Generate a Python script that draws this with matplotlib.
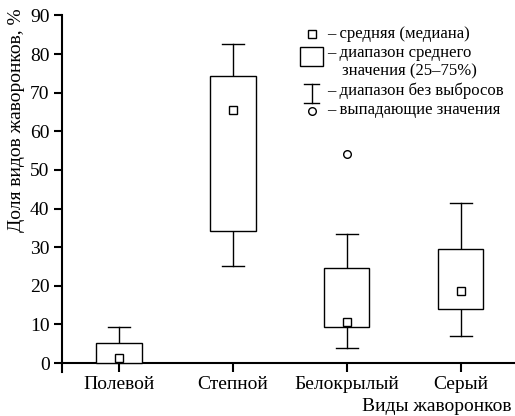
import matplotlib
matplotlib.use('Agg')
import matplotlib.pyplot as plt
from matplotlib.patches import Rectangle

plt.rcParams['font.family'] = ['Liberation Serif', 'DejaVu Serif']

# Данные: виды жаворонков и статистики распределения
species = ['Полевой', 'Степной', 'Белокрылый', 'Серый']
medians = [1.3, 65.6, 10.7, 18.7]
q25 = [0.0, 34.2, 9.3, 14.0]
q75 = [5.1, 74.4, 24.7, 29.5]
whisk_low = [0.0, 25.2, 4.0, 7.1]
whisk_high = [9.3, 82.7, 33.5, 41.4]
outlier_x = ['Белокрылый']
outlier_y = [54.1]

legend_texts = ['– средняя (медиана)', '– диапазон среднего', 'значения (25–75%)',
                '– диапазон без выбросов', '– выпадающие значения']

fig = plt.figure(figsize=(5.15, 4.16), dpi=100)
ax = fig.add_axes([0.1204, 0.1058, 0.8796, 0.857])

pos = list(range(1, len(species) + 1))
bw = 0.395
cw = 0.19
lw = 1.0
for i, x in enumerate(pos):
    # усы
    ax.plot([x, x], [whisk_low[i], q25[i]], color='black', lw=lw, zorder=2)
    ax.plot([x, x], [q75[i], whisk_high[i]], color='black', lw=lw, zorder=2)
    if whisk_low[i] < q25[i]:
        ax.plot([x - cw / 2, x + cw / 2], [whisk_low[i]] * 2, color='black', lw=lw)
    ax.plot([x - cw / 2, x + cw / 2], [whisk_high[i]] * 2, color='black', lw=lw)
    ax.add_patch(Rectangle((x - bw / 2, q25[i]), bw, q75[i] - q25[i],
                           facecolor='white', edgecolor='black', lw=lw, zorder=3))
    ax.plot(x, medians[i], 's', ms=6, mfc='white', mec='black', mew=1.0, zorder=4)

ox = [pos[species.index(s)] for s in outlier_x]
ax.plot(ox, outlier_y, 'o', ms=5.5, mfc='white', mec='black', mew=1.0)

# легенда
ax.plot(2.69, 85.2, 's', ms=6, mfc='white', mec='black', mew=1.0)
ax.add_patch(Rectangle((2.588, 76.9), 0.2, 5.0, facecolor='white', edgecolor='black', lw=lw))
ax.plot([2.69, 2.69], [67.4, 72.3], color='black', lw=lw)
ax.plot([2.625, 2.755], [72.3, 72.3], color='black', lw=lw)
ax.plot([2.625, 2.755], [67.4, 67.4], color='black', lw=lw)
ax.plot(2.69, 65.3, 'o', ms=5.5, mfc='white', mec='black', mew=1.0)
fs_leg = 12
ax.text(2.83, 85.2, legend_texts[0], fontsize=fs_leg, va='center')
ax.text(2.83, 80.3, legend_texts[1], fontsize=fs_leg, va='center')
ax.text(2.953, 75.6, legend_texts[2], fontsize=fs_leg, va='center')
ax.text(2.83, 70.5, legend_texts[3], fontsize=fs_leg, va='center')
ax.text(2.83, 65.5, legend_texts[4], fontsize=fs_leg, va='center')

ax.set_xlim(0.5, 4.474)
ax.set_ylim(-2.3, 90)
ax.set_xticks(pos)
ax.set_xticklabels(species)
ax.set_yticks(range(0, 91, 10))
ax.tick_params(axis='y', labelsize=14, width=1.5, length=6, direction='out', pad=3)
ax.tick_params(axis='x', labelsize=14, width=1.5, length=6.5, direction='out', pad=3)
for s in ['top', 'right']:
    ax.spines[s].set_visible(False)
ax.spines['left'].set_linewidth(1.5)
ax.spines['bottom'].set_linewidth(1.5)
ax.spines['bottom'].set_position(('data', 0))

fig.text(0.033, 0.712, 'Доля видов жаворонков, %', rotation=90, fontsize=14,
         ha='center', va='center')
fig.text(0.994, 0.012, 'Виды жаворонков', fontsize=14, ha='right', va='baseline')

fig.savefig('out.png', dpi=100)
